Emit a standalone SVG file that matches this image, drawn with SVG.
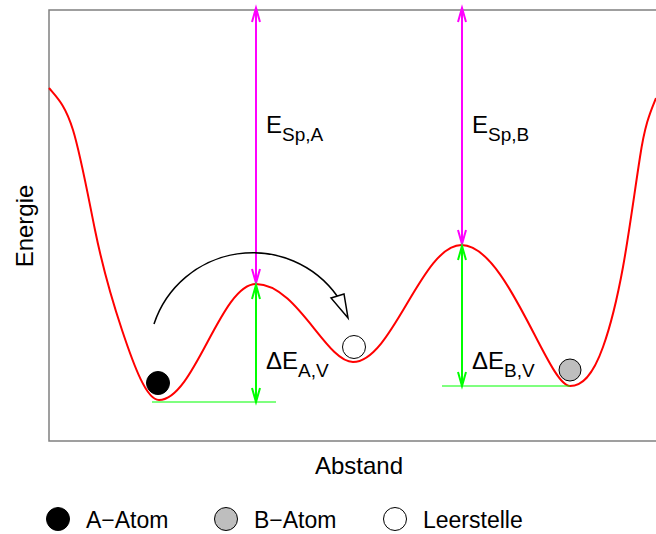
<svg xmlns="http://www.w3.org/2000/svg" width="656" height="534" viewBox="0 0 656 534">
<style>
text{font-family:"Liberation Sans",Arial,sans-serif;fill:#000}
.lbl{font-size:24px}
.sub{font-size:19px}
.leg{font-size:23px}
.frame{stroke:#808080;stroke-width:1.5;fill:none}
.mag{stroke:#ff00ff;stroke-width:2;fill:none}
.grn{stroke:#00ff00;stroke-width:2;fill:none}
.grnh{stroke:#00ff00;stroke-width:1.2;fill:none}
.atom{stroke:#000;stroke-width:1}
</style>
<rect width="656" height="534" fill="#fff"/>
<g id="frame">
<path class="frame" d="M656,10 H49 V441 H656"/>
</g>
<g id="curve">
<path d="M49,88 C57,97.6 65,104.4 73,130 C80.3,153.5 87.7,194 95,230 C104,274.1 113,303 122,330 C134.3,367 146.7,400 159,400 C194.3,400 220.7,284 256,284 C297,284 326,362 353,362 C392.3,362 421.7,245 461.5,245 C507,245 548,386 570,386 C581,386 592,377.8 603,347 C609.7,328.3 616.3,303.7 623,267 C628.7,235.8 634.3,193.8 640,157 C645.3,122.3 650.7,111.3 656,98" fill="none" stroke="#ff0000" stroke-width="2"/>
</g>
<g id="connectors">
<path class="mag" d="M256,8 V283 M252,22 L256,8 L260,22 M252,269 L256,283 L260,269"/>
<path class="grn" d="M256,285 V402 M252,299 L256,285 L260,299 M252,388 L256,402 L260,388"/>
<path class="grnh" d="M152,402 H276"/>
<path class="mag" d="M462,8 V244 M458,22 L462,8 L466,22 M458,230 L462,244 L466,230"/>
<path class="grn" d="M462,246 V386 M458,260 L462,246 L466,260 M458,372 L462,386 L466,372"/>
<path class="grnh" d="M442,386 H570"/>
<path d="M154,324 A104,104 0 0 1 337.5,296.5" fill="none" stroke="#000" stroke-width="1.5"/>
<polygon points="331,298 344,294 348,318" fill="#fff" stroke="#000" stroke-width="1.5" stroke-linejoin="miter"/>
</g>
<g id="atomA"><circle class="atom" cx="158" cy="383" r="11.5" fill="#000"/></g>
<g id="vacancy"><circle class="atom" cx="354" cy="347" r="11.5" fill="#fff"/></g>
<g id="atomB"><circle class="atom" cx="570" cy="370" r="11" fill="#bebebe"/></g>
<g id="labels">
<text x="266" y="133" class="lbl">E<tspan class="sub" dy="8">Sp,A</tspan></text>
<text x="472" y="133" class="lbl">E<tspan class="sub" dy="8">Sp,B</tspan></text>
<text x="266" y="369" class="lbl">ΔE<tspan class="sub" dy="8">A,V</tspan></text>
<text x="472" y="369" class="lbl">ΔE<tspan class="sub" dy="8">B,V</tspan></text>
<text x="359" y="474" class="lbl" text-anchor="middle">Abstand</text>
<text transform="translate(33,226) rotate(-90)" class="lbl" text-anchor="middle">Energie</text>
</g>
<g id="legend">
<circle class="atom" cx="58" cy="519" r="11.5" fill="#000"/>
<text x="86" y="528" class="leg">A−Atom</text>
<circle class="atom" cx="226" cy="519" r="11.5" fill="#bebebe"/>
<text x="254" y="528" class="leg">B−Atom</text>
<circle class="atom" cx="395" cy="519" r="11.5" fill="#fff"/>
<text x="423" y="528" class="leg">Leerstelle</text>
</g>
</svg>
